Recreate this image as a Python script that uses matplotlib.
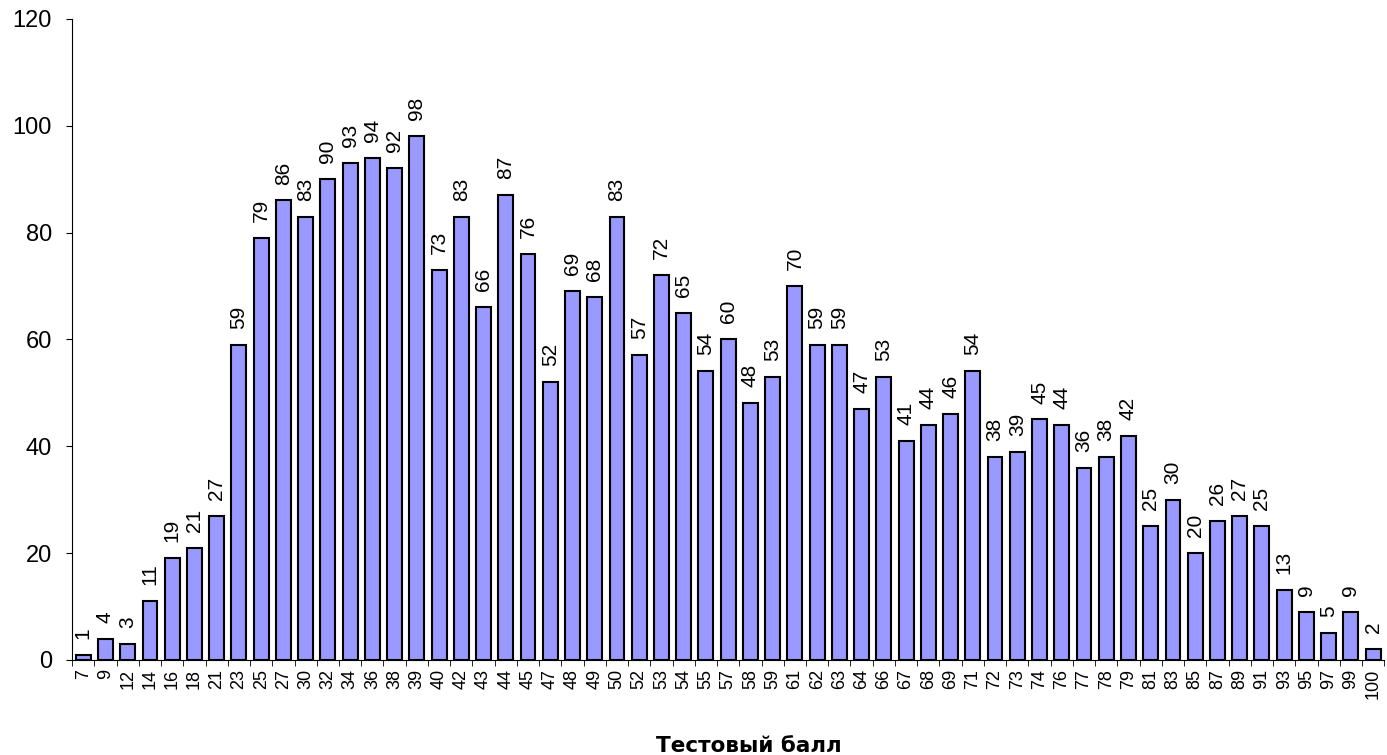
import matplotlib
matplotlib.use("Agg")
import matplotlib.pyplot as plt
import numpy as np

plt.rcParams['font.family'] = ['Liberation Sans', 'DejaVu Sans']

scores = ['7', '9', '12', '14', '16', '18', '21', '23', '25', '27', '30', '32', '34', '36', '38',
          '39', '40', '42', '43', '44', '45', '47', '48', '49', '50', '52', '53', '54', '55', '57',
          '58', '59', '61', '62', '63', '64', '66', '67', '68', '69', '71', '72', '73', '74', '76',
          '77', '78', '79', '81', '83', '85', '87', '89', '91', '93', '95', '97', '99', '100']
counts = [1, 4, 3, 11, 19, 21, 27, 59, 79, 86, 83, 90, 93, 94, 92, 98, 73, 83, 66, 87, 76, 52,
          69, 68, 83, 57, 72, 65, 54, 60, 48, 53, 70, 59, 59, 47, 53, 41, 44, 46, 54, 38, 39, 45,
          44, 36, 38, 42, 25, 30, 20, 26, 27, 25, 13, 9, 5, 9, 2]

fig = plt.figure(figsize=(13.87, 7.55), dpi=100)
ax = fig.add_axes([0.052, 0.126, 0.946, 0.849])

x = np.arange(len(scores))
ax.bar(x, counts, width=0.67, color='#9999FF', edgecolor='black', linewidth=1.5)

for xi, v in zip(x, counts):
    ax.annotate(str(v), (xi, v), xytext=(0, 11.5), textcoords='offset points',
                rotation=90, ha='center', va='bottom', fontsize=15)

ax.set_xlim(-0.5, len(scores) - 0.5)
ax.set_ylim(0, 120)
ax.set_yticks(range(0, 121, 20))
ax.tick_params(axis='y', labelsize=17, length=4.5, direction='out', pad=10)

ax.set_xticks(x)
ax.set_xticklabels(scores, rotation=90, fontsize=13)
ax.tick_params(axis='x', length=0, pad=6.5)
ax.set_xticks(np.arange(-0.5, len(scores)), minor=True)
ax.tick_params(axis='x', which='minor', length=4.5, direction='out')

ax.spines['top'].set_visible(False)
ax.spines['right'].set_visible(False)

fig.text(0.54, 0.004, 'Тестовый балл', ha='center', va='baseline', fontsize=15.5,
         fontweight='bold', family='DejaVu Sans')

fig.savefig('out.png', dpi=100)
